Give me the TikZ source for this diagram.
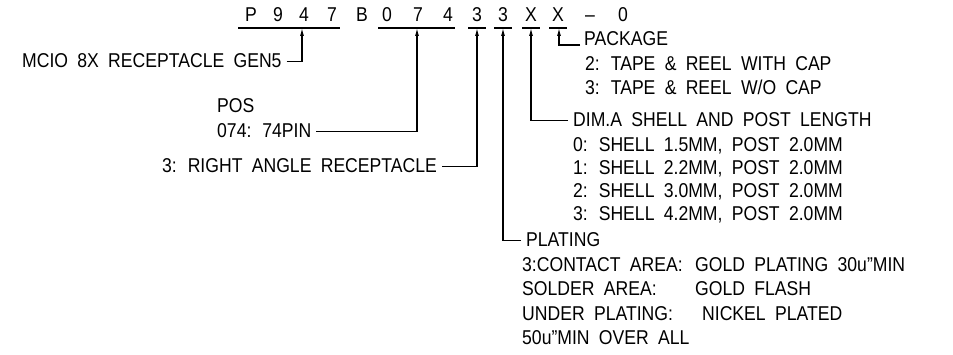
\documentclass[tikz,border=0pt]{standalone}
\usepackage{fontspec}
\setmainfont{Liberation Sans}[FakeStretch=0.88, WordSpace=1.9]
\usetikzlibrary{arrows.meta,calc}
\newcommand{\lbfont}{\fontsize{20}{24}\selectfont}
\tikzset{
  lbl/.style={anchor=base west, inner sep=0pt, font=\lbfont},
  hdr/.style={anchor=base, inner sep=0pt, font=\lbfont},
  ln/.style={line width=1.1pt, line cap=butt},
  arr/.style={ln, -{Latex[length=8pt,width=4pt]}},
}
\begin{document}
\begin{tikzpicture}[x=1pt,y=-1pt]
\useasboundingbox[fill=white] (0,0) rectangle (953,355);
% header characters
\foreach \c/\x/\n in {P/251/h1, 9/278/h2, 4/304/h3, 7/332/h4, B/362/h5, 0/387/h6, 7/418/h7, 4/448/h8, 3/477/h9, 3/503/h10, X/531/h11, X/558/h12, –/590/h13, 0/623/h14}
  \node[hdr] (\n) at (\x,22) {\c};
% underlines
\foreach \a/\b/\n in {238/340/u1, 378/455/u2, 468/486/u3, 494/512/u4, 522/540/u5, 549/567/u6}{
  \coordinate (\n s) at (\a,28);
  \coordinate (\n e) at (\b,28);
  \draw[ln] (\n s) -- (\n e);
}
% arrow tips on underlines
\coordinate (t1) at (302,28);
\coordinate (t2) at (417,28);
\coordinate (t3) at (477,28);
\coordinate (t4) at (503,28);
\coordinate (t5) at (531,28);
\coordinate (t6) at (559,28);
% labels
\node[lbl] (mcio) at (22,68) {MCIO 8X RECEPTACLE GEN5};
\node[lbl] (pos) at (217,113) {POS};
\node[lbl] (pin) at (217,138) {074: 74PIN};
\node[lbl] (ra) at (162,173) {3: RIGHT ANGLE RECEPTACLE};
\node[lbl] (pkg) at (584,46) {PACKAGE};
\node[lbl] (pk2) at (585,71) {2: TAPE \& REEL WITH CAP};
\node[lbl] (pk3) at (585,95) {3: TAPE \& REEL W/O CAP};
\node[lbl] (dim) at (573,127) {DIM.A SHELL AND POST LENGTH};
\node[lbl] (d0) at (573,152) {0: SHELL 1.5MM, POST 2.0MM};
\node[lbl] (d1) at (573,175) {1: SHELL 2.2MM, POST 2.0MM};
\node[lbl] (d2) at (573,198) {2: SHELL 3.0MM, POST 2.0MM};
\node[lbl] (d3) at (573,221) {3: SHELL 4.2MM, POST 2.0MM};
\node[lbl] (pl) at (526,247) {PLATING};
\node[lbl] (p1) at (522,272) {\makebox[173pt][l]{3:CONTACT AREA:}GOLD PLATING 30u"MIN};
\node[lbl] (p2) at (522,296) {\makebox[173pt][l]{SOLDER AREA:}GOLD FLASH};
\node[lbl] (p3) at (522,320) {\makebox[180pt][l]{UNDER PLATING:}NICKEL PLATED};
\node[lbl] (p4) at (522,344) {50u"MIN OVER ALL};
% connectors
\draw[arr] ($(mcio.base east)+(5,-6.5)$) -| (t1);
\draw[arr] ($(pin.base east)+(5,-6.5)$) -| (t2);
\draw[arr] ($(ra.base east)+(5,-6.5)$) -| (t3);
\draw[arr] ($(pl.base west)+(-5,-6.5)$) -| (t4);
\draw[arr] ($(dim.base west)+(-5,-6.5)$) -| (t5);
\draw[arr] ($(pkg.base west)+(-4,-1)$) -| (t6);
\end{tikzpicture}
\end{document}
